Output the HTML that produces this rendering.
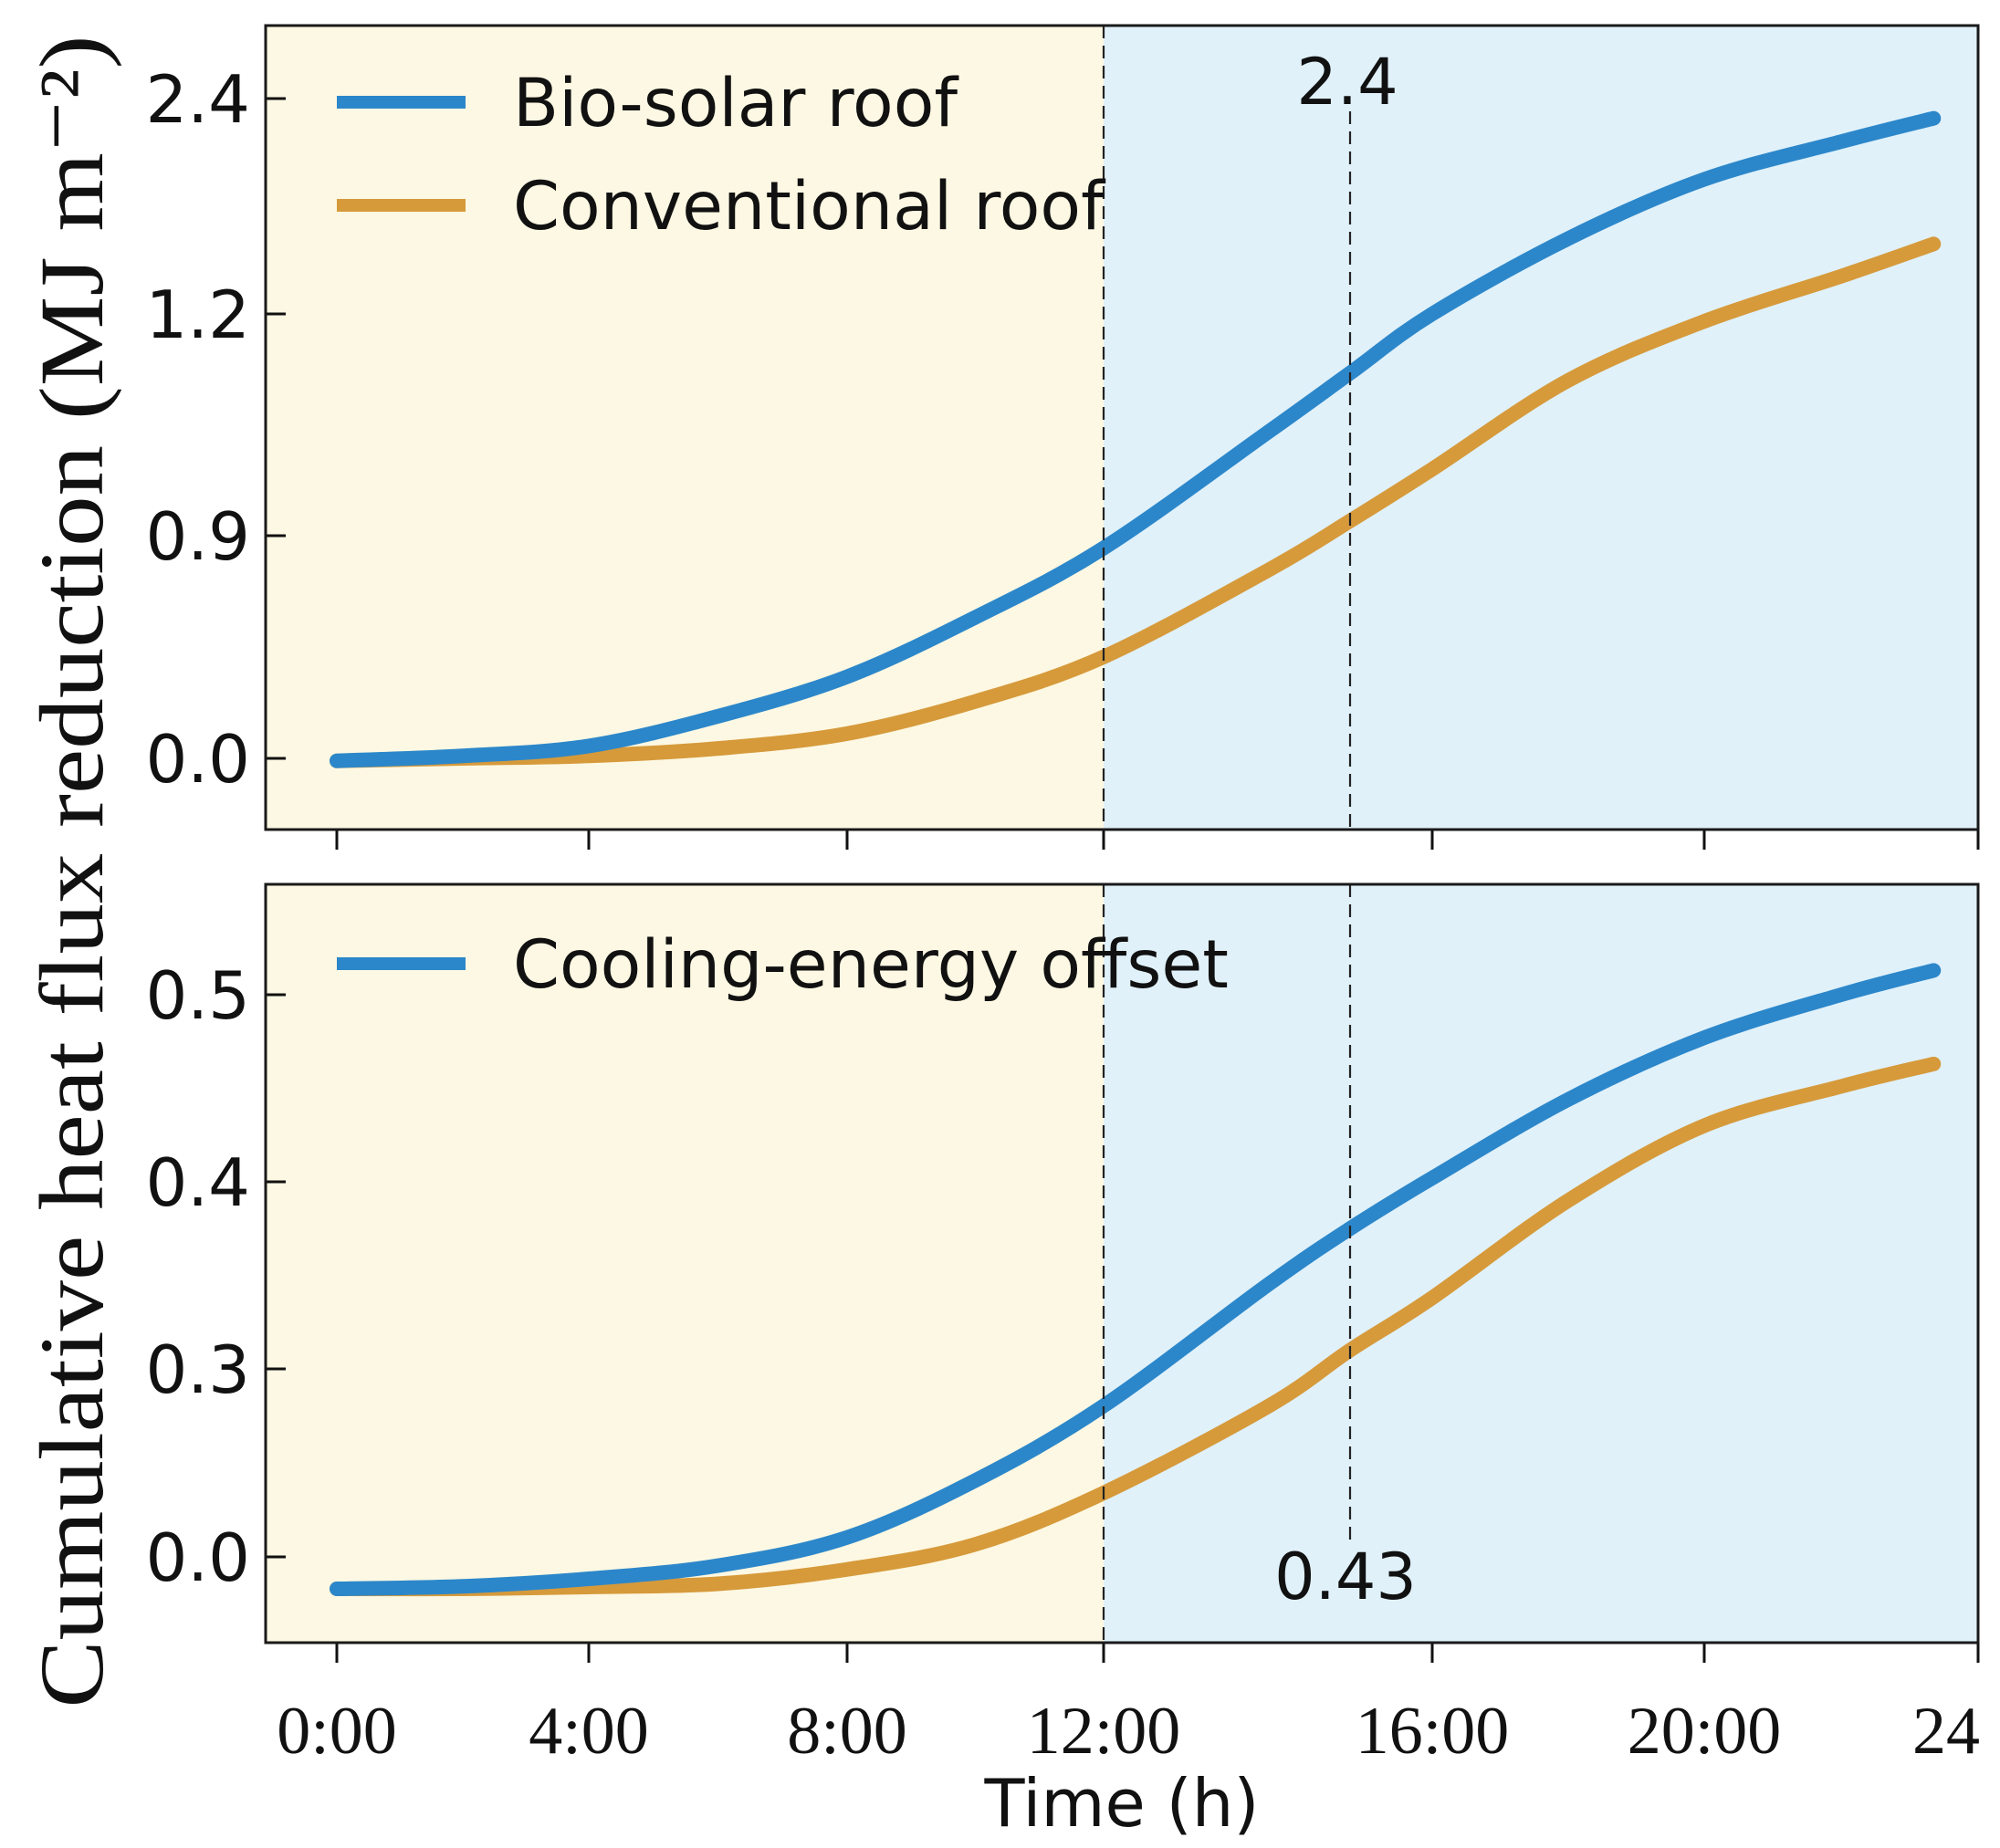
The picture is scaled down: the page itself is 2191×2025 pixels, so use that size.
<!DOCTYPE html>
<html><head><meta charset="utf-8">
<style>
html,body{margin:0;padding:0;background:#fff;}
svg{display:block;}
</style></head>
<body>
<svg id="chart" width="2191" height="2025" viewBox="0 0 2191 2025" xmlns="http://www.w3.org/2000/svg"></svg>
<script>
// ---- data ----
const hours = [0, 2, 4, 6, 8, 10, 12, 14, 15, 16, 18, 20, 22, 23.35];
const topBio = [-0.01, 0.01, 0.05, 0.17, 0.33, 0.57, 0.85, 1.04, 1.12, 1.2, 1.62, 1.95, 2.16, 2.29];
const topConv = [-0.01, 0.0, 0.01, 0.04, 0.10, 0.23, 0.41, 0.76, 0.92, 0.99, 1.11, 1.19, 1.41, 1.59];
const botBio = [-0.051, -0.047, -0.035, -0.014, 0.031, 0.122, 0.241, 0.345, 0.375, 0.402, 0.444, 0.477, 0.500, 0.513];
const botConv = [-0.051, -0.051, -0.048, -0.043, -0.020, 0.020, 0.102, 0.240, 0.310, 0.338, 0.390, 0.430, 0.451, 0.463];
const xTickHours = [0, 4, 8, 12, 16, 20, 24];
const xTickLabels = ["0:00", "4:00", "8:00", "12:00", "16:00", "20:00", "24"];
const topTickValues = [0, 0.9, 1.2, 2.4];
const topTickLabels = ["0.0", "0.9", "1.2", "2.4"];
const botTickValues = [0, 0.3, 0.4, 0.5];
const botTickLabels = ["0.0", "0.3", "0.4", "0.5"];
const markerHours = [12, 15];
const topAnnotation = "2.4";
const botAnnotation = "0.43";

// ---- layout (pixels) ----
const L = 291, R = 2167;
const xKnotPx = [369, 645, 928, 1209, 1569, 1867, 2167];
const topPanel = {t: 28, b: 909, knotPx: [831, 587, 344, 108]};
const botPanel = {t: 969, b: 1800, knotPx: [1706, 1500, 1295, 1090]};

function piece(v, ks, ps) {
  let i = 0;
  if (v <= ks[0]) i = 0;
  else if (v >= ks[ks.length - 1]) i = ks.length - 2;
  else { while (v > ks[i + 1]) i++; }
  return ps[i] + (v - ks[i]) * (ps[i + 1] - ps[i]) / (ks[i + 1] - ks[i]);
}
const xScale = h => piece(h, xTickHours, xKnotPx);
const topY = v => piece(v, topTickValues, topPanel.knotPx);
const botY = v => piece(v, botTickValues, botPanel.knotPx);

const NS = "http://www.w3.org/2000/svg";
const svg = document.getElementById("chart");
function mk(tag, attrs, parent) {
  const e = document.createElementNS(NS, tag);
  for (const k in attrs) e.setAttribute(k, attrs[k]);
  (parent || svg).appendChild(e);
  return e;
}
function smoothPath(xs, ys) {
  let d = `M${xs[0]},${ys[0]}`;
  for (let i = 0; i < xs.length - 1; i++) {
    const x0 = xs[Math.max(i - 1, 0)], y0 = ys[Math.max(i - 1, 0)];
    const x1 = xs[i], y1 = ys[i], x2 = xs[i + 1], y2 = ys[i + 1];
    const x3 = xs[Math.min(i + 2, xs.length - 1)], y3 = ys[Math.min(i + 2, xs.length - 1)];
    const c1x = x1 + (x2 - x0) / 6, c1y = y1 + (y2 - y0) / 6;
    const c2x = x2 - (x3 - x1) / 6, c2y = y2 - (y3 - y1) / 6;
    d += ` C${c1x},${c1y} ${c2x},${c2y} ${x2},${y2}`;
  }
  return d;
}
const FS = '"DejaVu Sans", "Liberation Sans", sans-serif';
const SERIF = '"Liberation Serif", serif';

function panel(p, yFn, tickVals, tickLabs, series, name) {
  const g = mk("g", {});
  
  
  const split = xScale(markerHours[0]);
  const bgY = mk("rect", {x: L, y: p.t, width: split - L, height: p.b - p.t, fill: "#fdf8e3"}, g);
  
  
  const bgB = mk("rect", {x: split, y: p.t, width: R - split, height: p.b - p.t, fill: "#e0f1fa"}, g);
  
  
  tickVals.forEach((v, i) => {
    const y = yFn(v);
    const t = mk("line", {x1: L, x2: L + 22, y1: y, y2: y, stroke: "#111", "stroke-width": 3}, g);
    
    
    const lab = mk("text", {x: 274, y: y + 26, "text-anchor": "end", "font-family": FS, "font-size": 72, fill: "#111"}, g);
    lab.textContent = tickLabs[i];
    
    
  });
  xTickHours.forEach(h => {
    const x = xScale(h);
    const t = mk("line", {x1: x, x2: x, y1: p.b, y2: p.b + 22, stroke: "#111", "stroke-width": 3}, g);
    
    
  });
  series.forEach(s => {
    const xs = hours.map(xScale), ys = s.vals.map(yFn);
    const path = mk("path", {d: smoothPath(xs, ys), fill: "none", stroke: s.color, "stroke-width": 16, "stroke-linecap": "round"}, g);
    
    
  });
  return g;
}

const BLUE = "#2c87ca", ORANGE = "#d69a3b";
panel(topPanel, topY, topTickValues, topTickLabels,
  [{vals: topConv, color: ORANGE, name: 'conventional-roof-line'}, {vals: topBio, color: BLUE, name: 'bio-solar-roof-line'}], 'top-panel');
panel(botPanel, botY, botTickValues, botTickLabels,
  [{vals: botConv, color: ORANGE, name: 'conventional-offset-line'}, {vals: botBio, color: BLUE, name: 'cooling-energy-offset-line'}], 'bottom-panel');

const x12 = xScale(markerHours[0]), x15 = xScale(markerHours[1]);
[[x12, topPanel.t, topPanel.b], [x15, 122, topPanel.b], [x12, botPanel.t, botPanel.b], [x15, botPanel.t, 1690]].forEach(a => {
  const d = mk("line", {x1: a[0], x2: a[0], y1: a[1], y2: a[2], stroke: "#222", "stroke-width": 2.2, "stroke-dasharray": "14 8"});
  
  
});

[topPanel, botPanel].forEach(p => {
  const f = mk("rect", {x: L, y: p.t, width: R - L, height: p.b - p.t, fill: "none", stroke: "#1a1a1a", "stroke-width": 3});
  
  
});

const a1 = mk("text", {x: x15 - 3, y: 114, "text-anchor": "middle", "font-family": FS, "font-size": 70, fill: "#111"});
a1.textContent = topAnnotation;


const a2 = mk("text", {x: x15 - 5, y: 1752, "text-anchor": "middle", "font-family": FS, "font-size": 70, fill: "#111"});
a2.textContent = botAnnotation;



function legendEntry(y, color, label, name) {
  const g = mk("g", {});
  
  
  mk("line", {x1: 369, x2: 510, y1: y, y2: y, stroke: color, "stroke-width": 14}, g);
  const t = mk("text", {x: 562, y: y + 26, "font-family": FS, "font-size": 73, fill: "#111"}, g);
  t.textContent = label;
}
legendEntry(112, BLUE, "Bio-solar roof", 'legend-entry-bio-solar');
legendEntry(225, ORANGE, "Conventional roof", 'legend-entry-conventional');
legendEntry(1056, BLUE, "Cooling-energy offset", 'legend-entry-cooling-offset');

xTickHours.forEach((h, i) => {
  const t = mk("text", {x: xScale(h), y: 1921, "text-anchor": i === xTickHours.length - 1 ? "end" : "middle", "font-family": SERIF, "font-size": 74, fill: "#111"});
  if (i === xTickHours.length - 1) t.setAttribute("x", xScale(h) + 2);
  t.textContent = xTickLabels[i];
  
  
});

const xt = mk("text", {x: 1229, y: 2001, "text-anchor": "middle", "font-family": FS, "font-size": 72, fill: "#111"});
xt.textContent = "Time (h)";


const yt = mk("text", {x: 0, y: 0, "text-anchor": "middle", "font-family": SERIF, "font-size": 100, fill: "#111",
  transform: "translate(112,955) rotate(-90)", textLength: 1833, lengthAdjust: "spacingAndGlyphs"});
yt.textContent = "Cumulative heat flux reduction (MJ m\u207B\u00B2)";


</script>
</body></html>
